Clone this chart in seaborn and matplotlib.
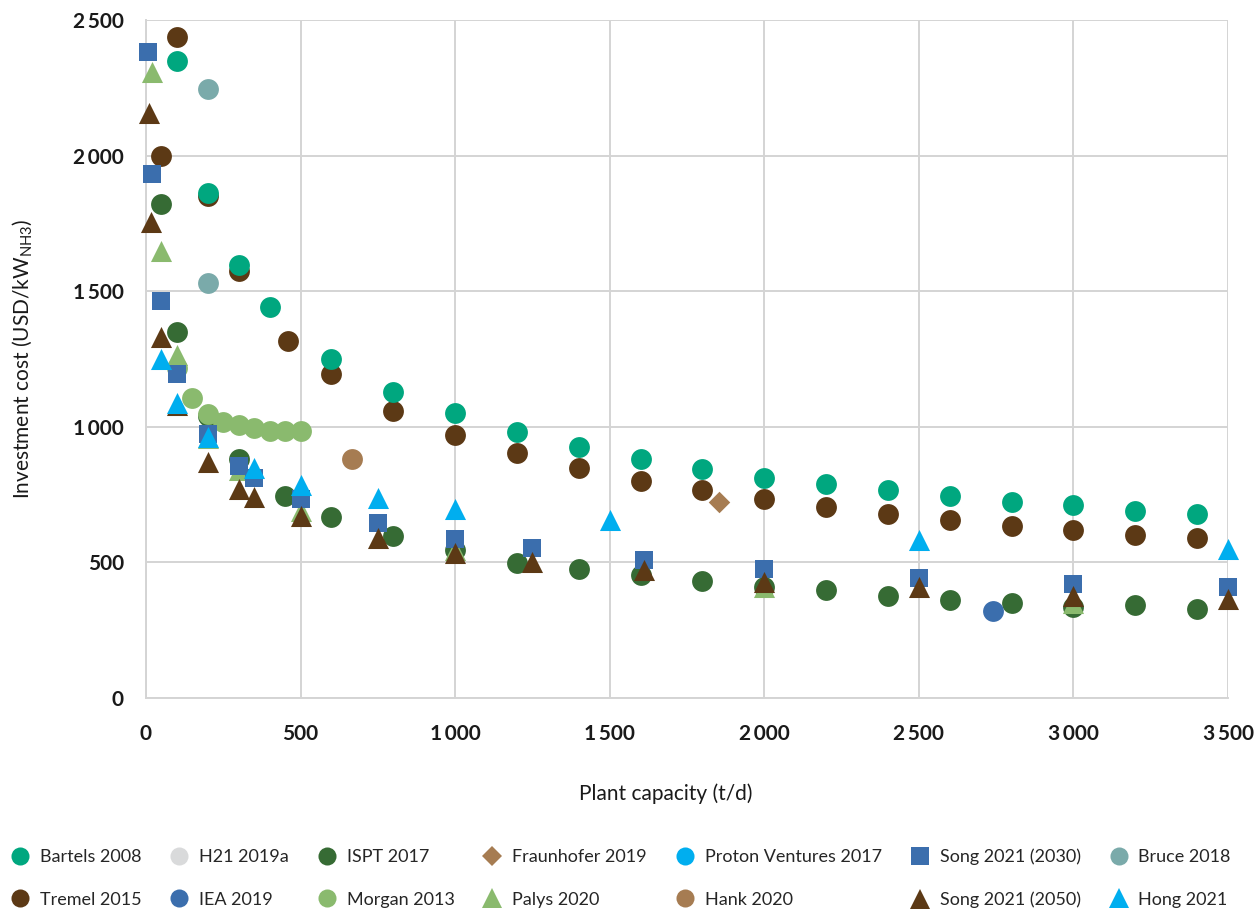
import matplotlib
matplotlib.use("Agg")
import matplotlib.pyplot as plt
from matplotlib.lines import Line2D
from matplotlib.ticker import FuncFormatter, MultipleLocator
import seaborn as sns

# Data (plant capacity t/d, investment cost USD/kW NH3)
tremel_x = [50, 100, 200, 300, 460, 600, 800, 1000, 1200, 1400, 1600, 1800, 2000, 2200, 2400, 2600, 2800, 3000, 3200, 3400]
tremel_y = [2000, 2437, 1851, 1574, 1318, 1195, 1058, 968, 903, 848, 800, 767, 734, 704, 678, 656, 634, 619, 601, 590]

bartels_x = [100, 200, 300, 400, 600, 800, 1000, 1200, 1400, 1600, 1800, 2000, 2200, 2400, 2600, 2800, 3000, 3200, 3400]
bartels_y = [2348, 1862, 1597, 1442, 1250, 1127, 1051, 981, 925, 881, 846, 811, 789, 767, 745, 723, 712, 690, 678]

bruce_x = [200, 200]
bruce_y = [2246, 1530]

hank_x = [665]
hank_y = [880]

fraunhofer_x = [1855]
fraunhofer_y = [723]

ispt_x = [50, 100, 200, 300, 450, 600, 800, 1000, 1200, 1400, 1600, 1800, 2000, 2200, 2400, 2600, 2800, 3000, 3200, 3400]
ispt_y = [1821, 1350, 1040, 880, 745, 667, 596, 544, 498, 476, 454, 430, 409, 397, 375, 363, 351, 336, 342, 330]

morgan_x = [100, 150, 200, 250, 300, 350, 400, 450, 500]
morgan_y = [1217, 1106, 1047, 1018, 1007, 996, 985, 985, 985]

palys_x = [20, 50, 100, 200, 300, 500, 1000, 2000, 3000]
palys_y = [2310, 1650, 1263, 960, 840, 690, 545, 410, 350]

iea_x = [2740]
iea_y = [320]

song30_x = [5, 20, 50, 100, 200, 300, 350, 500, 750, 1000, 1250, 1610, 2000, 2500, 3000, 3500]
song30_y = [2382, 1932, 1464, 1195, 973, 857, 813, 734, 645, 585, 553, 509, 476, 442, 420, 409]

song50_x = [10, 15, 50, 100, 200, 300, 350, 500, 750, 1000, 1250, 1610, 2000, 2500, 3000, 3500]
song50_y = [2157, 1755, 1331, 1080, 870, 771, 741, 671, 590, 535, 501, 472, 428, 409, 378, 365]

hong_x = [50, 100, 200, 350, 500, 750, 1000, 1500, 2500, 3500]
hong_y = [1250, 1088, 961, 848, 785, 737, 697, 656, 583, 549]

TEAL = "#00a77f"
BROWN = "#5c3915"
DKGREEN = "#366b34"
LTGREEN = "#8aba6e"
BLUE = "#3b6ead"
CYAN = "#00aeef"
TAN = "#a67c52"
GREYTEAL = "#7aaaaa"
LTGREY = "#d9dadb"

sns.set_theme(style="white")
plt.rcParams["font.family"] = ["Lato", "DejaVu Sans"]

fig = plt.figure(figsize=(12.55, 9.09), dpi=100)
ax = fig.add_axes([0.1163, 0.2321, 0.8622, 0.7459])

# drawn in z-order as in the reference
series = [
    (tremel_x, tremel_y, BROWN, "o", 225),
    (bartels_x, bartels_y, TEAL, "o", 225),
    (bruce_x, bruce_y, GREYTEAL, "o", 225),
    (hank_x, hank_y, TAN, "o", 225),
    (fraunhofer_x, fraunhofer_y, TAN, "D", 120),
    (ispt_x, ispt_y, DKGREEN, "o", 225),
    (morgan_x, morgan_y, LTGREEN, "o", 225),
    (palys_x, palys_y, LTGREEN, "^", 230),
    (iea_x, iea_y, BLUE, "o", 225),
    (song30_x, song30_y, BLUE, "s", 185),
    (song50_x, song50_y, BROWN, "^", 230),
    (hong_x, hong_y, CYAN, "^", 230),
]
for xs, ys, col, mk, size in series:
    sns.scatterplot(x=xs, y=ys, color=col, marker=mk, s=size, linewidth=0,
                    ax=ax, legend=False, zorder=3, clip_on=False)

ax.set_xlim(0, 3500)
ax.set_ylim(0, 2500)
ax.xaxis.set_major_locator(MultipleLocator(500))
ax.yaxis.set_major_locator(MultipleLocator(500))

def thousands(v, pos):
    v = int(round(v))
    if v >= 1000:
        return f"{v // 1000}\u2009{v % 1000:03d}"
    return str(v)

ax.xaxis.set_major_formatter(FuncFormatter(thousands))
ax.yaxis.set_major_formatter(FuncFormatter(thousands))

ax.grid(True, color="#d4d4d4", linewidth=1.4)
ax.set_axisbelow(True)
for side in ["top", "right"]:
    ax.spines[side].set_visible(False)
for side in ["left", "bottom"]:
    ax.spines[side].set_color("#d4d4d4")
    ax.spines[side].set_linewidth(1.4)

ax.tick_params(axis="x", length=0, pad=19, labelsize=15)
ax.tick_params(axis="y", length=0, pad=16, labelsize=15)
for lbl in ax.get_xticklabels() + ax.get_yticklabels():
    lbl.set_fontweight("bold")
    lbl.set_color("#1a1a1a")

ax.set_xlabel("Plant capacity (t/d)", fontsize=15, color="#1a1a1a")
ax.set_ylabel(r"Investment cost (USD/kW$_{\mathregular{NH3}}$)", fontsize=15,
              color="#1a1a1a", labelpad=27)
ax.xaxis.set_label_coords(0.48, -0.126)

# legend (column-major order to get the two rows of the reference)
def h(col, mk, ms=13):
    return Line2D([], [], linestyle="none", marker=mk, color=col,
                  markeredgewidth=0, markersize=ms)

entries = [
    (h(TEAL, "o"), "Bartels 2008"),
    (h(BROWN, "o"), "Tremel 2015"),
    (h(LTGREY, "o"), "H21 2019a"),
    (h(BLUE, "o"), "IEA 2019"),
    (h(DKGREEN, "o"), "ISPT 2017"),
    (h(LTGREEN, "o"), "Morgan 2013"),
    (h(TAN, "D", 10), "Fraunhofer 2019"),
    (h(LTGREEN, "^", 14), "Palys 2020"),
    (h(CYAN, "o"), "Proton Ventures 2017"),
    (h(TAN, "o"), "Hank 2020"),
    (h(BLUE, "s", 13), "Song 2021 (2030)"),
    (h(BROWN, "^", 14), "Song 2021 (2050)"),
    (h(GREYTEAL, "o"), "Bruce 2018"),
    (h(CYAN, "^", 14), "Hong 2021"),
]
fig.legend([e[0] for e in entries], [e[1] for e in entries], ncol=7,
           loc="upper left", bbox_to_anchor=(0.0, 0.078), frameon=False,
           fontsize=13, handlelength=1.0, handletextpad=0.6,
           columnspacing=1.6, labelspacing=1.45, borderaxespad=0.2)

fig.savefig("out.png", dpi=100)
